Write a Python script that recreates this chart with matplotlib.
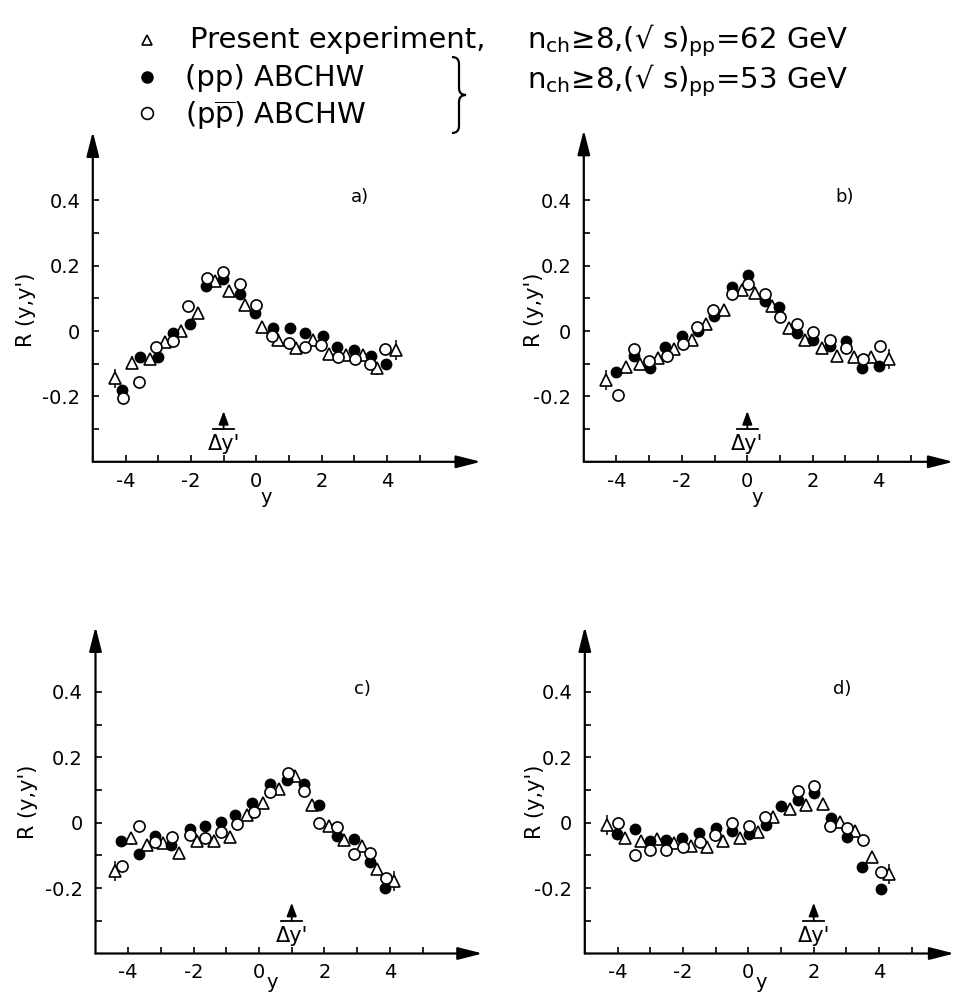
import matplotlib
matplotlib.use('Agg')
import matplotlib.pyplot as plt
from matplotlib.path import Path
from matplotlib.patches import PathPatch

plt.rcParams['font.family'] = ['DejaVu Sans']
plt.rcParams['mathtext.fontset'] = 'dejavusans'
plt.rcParams['axes.unicode_minus'] = False

# ---------------- data ----------------
panel_names = ['a)', 'b)', 'c)', 'd)']
delta_y_prime = [-1, 0, 1, 2]

# panel a
a_tri_x = [-4.33, -3.79, -3.26, -2.79, -2.31, -1.77, -1.26, -0.83, -0.35, 0.18, 0.67, 1.20, 1.72, 2.23, 2.74, 3.26, 3.70, 4.28]
a_tri_y = [-0.145, -0.097, -0.086, -0.033, 0.0, 0.054, 0.154, 0.123, 0.080, 0.013, -0.028, -0.053, -0.028, -0.070, -0.073, -0.073, -0.114, -0.058]
a_tri_err = [0.03, 0.02, 0, 0, 0, 0, 0, 0, 0, 0, 0, 0, 0, 0, 0, 0, 0.02, 0.03]
a_pp_x = [-4.10, -3.56, -3.02, -2.54, -2.03, -1.53, -1.02, -0.51, -0.05, 0.52, 1.03, 1.49, 2.03, 2.47, 3.00, 3.51, 3.97]
a_pp_y = [-0.179, -0.081, -0.081, -0.007, 0.021, 0.138, 0.158, 0.112, 0.054, 0.008, 0.008, -0.005, -0.015, -0.050, -0.058, -0.075, -0.100]
a_ppbar_x = [-4.08, -3.58, -3.07, -2.54, -2.08, -1.51, -1.02, -0.51, 0.00, 0.48, 0.99, 1.49, 1.99, 2.51, 3.02, 3.49, 3.94]
a_ppbar_y = [-0.206, -0.155, -0.050, -0.031, 0.077, 0.161, 0.179, 0.144, 0.080, -0.015, -0.038, -0.050, -0.043, -0.079, -0.087, -0.102, -0.056]

# panel b
b_tri_x = [-4.31, -3.72, -3.29, -2.73, -2.25, -1.68, -1.25, -0.71, -0.17, 0.24, 0.75, 1.26, 1.77, 2.28, 2.74, 3.27, 3.78, 4.33]
b_tri_y = [-0.149, -0.110, -0.101, -0.082, -0.055, -0.028, 0.021, 0.065, 0.126, 0.116, 0.077, 0.010, -0.028, -0.052, -0.075, -0.080, -0.080, -0.086]
b_tri_err = [0.03, 0, 0, 0, 0, 0, 0, 0, 0, 0, 0, 0, 0, 0, 0, 0, 0, 0.03]
b_pp_x = [-4.01, -3.48, -2.99, -2.53, -2.01, -1.50, -1.02, -0.48, 0.03, 0.54, 0.98, 1.51, 2.02, 2.52, 3.03, 3.51, 4.02]
b_pp_y = [-0.124, -0.077, -0.113, -0.048, -0.015, 0.0, 0.046, 0.136, 0.172, 0.093, 0.072, -0.005, -0.026, -0.046, -0.031, -0.113, -0.106]
b_ppbar_x = [-3.94, -3.48, -3.01, -2.47, -1.98, -1.53, -1.04, -0.48, 0.03, 0.54, 1.00, 1.51, 2.00, 2.52, 3.03, 3.54, 4.05]
b_ppbar_y = [-0.196, -0.055, -0.093, -0.075, -0.041, 0.012, 0.065, 0.113, 0.144, 0.113, 0.044, 0.021, -0.003, -0.028, -0.052, -0.086, -0.046]

# panel c
c_tri_x = [-4.40, -3.92, -3.41, -2.94, -2.45, -1.89, -1.38, -0.90, -0.38, 0.11, 0.61, 1.10, 1.61, 2.13, 2.59, 3.15, 3.61, 4.12]
c_tri_y = [-0.148, -0.048, -0.068, -0.063, -0.092, -0.056, -0.056, -0.043, 0.023, 0.059, 0.102, 0.143, 0.054, -0.010, -0.053, -0.071, -0.143, -0.178]
c_tri_err = [0.03, 0.02, 0, 0, 0, 0, 0, 0, 0, 0, 0, 0, 0, 0, 0, 0, 0, 0.03]
c_pp_x = [-4.23, -3.66, -3.17, -2.69, -2.12, -1.66, -1.15, -0.74, -0.20, 0.33, 0.87, 1.38, 1.85, 2.38, 2.90, 3.39, 3.84]
c_pp_y = [-0.056, -0.096, -0.041, -0.068, -0.020, -0.010, 0.003, 0.023, 0.059, 0.117, 0.131, 0.118, 0.054, -0.041, -0.051, -0.119, -0.201]
c_ppbar_x = [-4.19, -3.66, -3.17, -2.66, -2.12, -1.66, -1.15, -0.67, -0.16, 0.35, 0.90, 1.39, 1.85, 2.40, 2.92, 3.39, 3.87]
c_ppbar_y = [-0.133, -0.009, -0.058, -0.043, -0.038, -0.048, -0.028, -0.005, 0.032, 0.095, 0.151, 0.098, 0.0, -0.014, -0.097, -0.092, -0.170]

# panel d
d_tri_x = [-4.32, -3.76, -3.28, -2.78, -2.27, -1.74, -1.25, -0.77, -0.25, 0.31, 0.77, 1.28, 1.77, 2.29, 2.80, 3.26, 3.77, 4.31]
d_tri_y = [-0.007, -0.047, -0.055, -0.049, -0.062, -0.070, -0.075, -0.057, -0.047, -0.027, 0.016, 0.043, 0.055, 0.058, 0.003, -0.025, -0.105, -0.157]
d_tri_err = [0.03, 0, 0, 0, 0, 0, 0, 0, 0, 0, 0, 0, 0, 0, 0, 0, 0.015, 0.03]
d_pp_x = [-4.01, -3.48, -3.02, -2.53, -2.02, -1.50, -0.99, -0.49, 0.03, 0.55, 1.00, 1.51, 2.00, 2.53, 3.02, 3.49, 4.05]
d_pp_y = [-0.034, -0.020, -0.055, -0.052, -0.047, -0.030, -0.015, -0.025, -0.034, -0.007, 0.050, 0.070, 0.091, 0.013, -0.045, -0.137, -0.202]
d_ppbar_x = [-3.99, -3.48, -3.02, -2.51, -2.00, -1.48, -1.02, -0.51, 0.03, 0.51, 1.51, 2.00, 2.51, 3.02, 3.52, 4.05]
d_ppbar_y = [0.0, -0.099, -0.084, -0.084, -0.074, -0.059, -0.037, -0.002, -0.010, 0.016, 0.096, 0.113, -0.010, -0.017, -0.054, -0.152]

x_ticks = [-4, -3, -2, -1, 0, 1, 2, 3, 4, 5]
x_ticklabels = ['-4', '', '-2', '', '0', '', '2', '', '4', '']
y_ticks = [-0.3, -0.2, -0.1, 0.0, 0.1, 0.2, 0.3, 0.4]
y_ticklabels = ['', '-0.2', '', '0', '', '0.2', '', '0.4']

series = [
    (a_tri_x, a_tri_y, a_tri_err, a_pp_x, a_pp_y, a_ppbar_x, a_ppbar_y),
    (b_tri_x, b_tri_y, b_tri_err, b_pp_x, b_pp_y, b_ppbar_x, b_ppbar_y),
    (c_tri_x, c_tri_y, c_tri_err, c_pp_x, c_pp_y, c_ppbar_x, c_ppbar_y),
    (d_tri_x, d_tri_y, d_tri_err, d_pp_x, d_pp_y, d_ppbar_x, d_ppbar_y),
]

# ---------------- layout ----------------
W, H = 955, 996
PX_X = 32.7    # pixels per unit of y (rapidity)
PX_Y = 327.0   # pixels per unit of R
XMIN, YMIN = -5.0, -0.4
# (origin x px, origin y px from top, right x-limit, top y-limit, ylabel offset px,
#  panel-label x, x-label x, x-label y)
layout = [
    (92.8, 461.8, 6.87, 0.61, 67, 2.9, 0.30, -0.51),
    (583.8, 461.8, 6.30, 0.615, 50, 2.7, 0.30, -0.51),
    (95.5, 953.5, 6.84, 0.60, 68, 2.9, 0.40, -0.49),
    (584.8, 953.5, 6.30, 0.60, 50, 2.6, 0.40, -0.49),
]

fig = plt.figure(figsize=(W / 100, H / 100), dpi=100)

# overlay for the legend block
lax = fig.add_axes([0, 0, 1, 1])
lax.set_xlim(0, W)
lax.set_ylim(H, 0)
lax.axis('off')

FS_LEG = 21
lax.plot([147], [40], marker='^', ms=7, mfc='white', mec='k', mew=1.2, ls='none')
lax.plot([147], [77], marker='o', ms=8, mfc='k', mec='k', ls='none')
lax.plot([147], [113], marker='o', ms=8.5, mfc='white', mec='k', mew=1.2, ls='none')
lax.text(190, 48, 'Present experiment,', fontsize=FS_LEG, va='baseline', ha='left')
lax.text(527, 48, r'n$_\mathrm{ch}$≥8,(√ s)$_\mathrm{pp}$=62 GeV', fontsize=FS_LEG, va='baseline', ha='left')
lax.text(185, 86, '(pp) ABCHW', fontsize=FS_LEG, va='baseline', ha='left')
lax.text(185, 124, r'(p$\overline{\mathrm{p}}$) ABCHW', fontsize=FS_LEG, va='baseline', ha='left')
lax.text(527, 88, r'n$_\mathrm{ch}$≥8,(√ s)$_\mathrm{pp}$=53 GeV', fontsize=FS_LEG, va='baseline', ha='left')
brace_verts = [(452, 57), (459, 57), (459, 64),
               (459, 88),
               (459, 95), (466, 95),
               (459, 95), (459, 102),
               (459, 126),
               (459, 133), (452, 133)]
brace_codes = [Path.MOVETO, Path.CURVE3, Path.CURVE3,
               Path.LINETO,
               Path.CURVE3, Path.CURVE3,
               Path.CURVE3, Path.CURVE3,
               Path.LINETO,
               Path.CURVE3, Path.CURVE3]
lax.add_patch(PathPatch(Path(brace_verts, brace_codes), fill=False, lw=1.6, ec='k'))

for i, (ox, oy, xr, yt, ylab_off, plab_x, xlab_x, xlab_y) in enumerate(layout):
    left = ox / W
    bottom = 1 - oy / H
    width = (xr - XMIN) * PX_X / W
    height = (yt - YMIN) * PX_Y / H
    ax = fig.add_axes([left, bottom, width, height])
    ax.set_xlim(XMIN, xr)
    ax.set_ylim(YMIN, yt)
    ax.patch.set_alpha(0)
    for s in ax.spines.values():
        s.set_visible(False)
    # axes with arrow heads
    ax.annotate('', xy=(1, 0), xytext=(0, 0), xycoords='axes fraction',
                arrowprops=dict(arrowstyle='-|>,head_length=1.5,head_width=0.38',
                                lw=1.6, color='k', mutation_scale=10, shrinkA=0, shrinkB=0))
    ax.annotate('', xy=(0, 1), xytext=(0, 0), xycoords='axes fraction',
                arrowprops=dict(arrowstyle='-|>,head_length=1.5,head_width=0.38',
                                lw=1.6, color='k', mutation_scale=10, shrinkA=0, shrinkB=0))
    ax.set_xticks(x_ticks)
    ax.set_xticklabels(x_ticklabels)
    ax.set_yticks(y_ticks)
    ax.set_yticklabels(y_ticklabels)
    ax.tick_params(axis='x', direction='in', length=5, width=1.2, pad=7, labelsize=14)
    ax.tick_params(axis='y', direction='in', length=4, width=1.2, pad=9, labelsize=14)

    tx, ty, terr, px_, py_, qx, qy = series[i]
    ax.errorbar([x for x, e in zip(tx, terr) if e > 0], [y for y, e in zip(ty, terr) if e > 0],
                yerr=[e for e in terr if e > 0], fmt='none', ecolor='k', elinewidth=1.1, capsize=0, zorder=3)
    ax.plot(tx, ty, ls='none', marker='^', ms=8.5, mfc='white', mec='k', mew=1.2, zorder=4)
    ax.plot(px_, py_, ls='none', marker='o', ms=7.5, mfc='k', mec='k', mew=1.0, zorder=5)
    ax.plot(qx, qy, ls='none', marker='o', ms=8, mfc='white', mec='k', mew=1.2, zorder=6)

    # Delta y' marker
    dx = delta_y_prime[i]
    ax.annotate('', xy=(dx, -0.245), xytext=(dx, -0.30),
                arrowprops=dict(arrowstyle='-|>,head_length=0.8,head_width=0.3',
                                lw=1.3, color='k', mutation_scale=10, shrinkA=0, shrinkB=0))
    ax.plot([dx - 0.33, dx + 0.33], [-0.30, -0.30], color='k', lw=1.3)
    ax.text(dx, -0.345, "Δy'", fontsize=15, ha='center', va='center')

    ax.text(plab_x, 0.41, panel_names[i], fontsize=13, ha='left', va='center')
    ax.text(xlab_x, xlab_y, 'y', fontsize=14, ha='center', va='center', clip_on=False)
    ax.text(XMIN - ylab_off / PX_X, 0.065, "R (y,y')", fontsize=15, rotation=90,
            ha='center', va='center', clip_on=False)

fig.savefig('out.png', dpi=100)
